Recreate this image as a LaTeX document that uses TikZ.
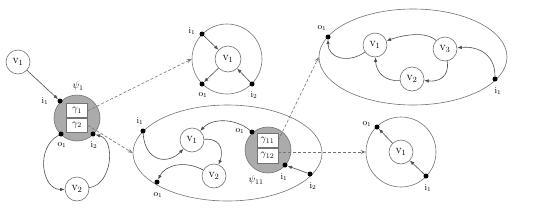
\documentclass[tikz,border=0pt]{standalone}
\usetikzlibrary{arrows.meta,calc,shapes.geometric}
\begin{document}
\begin{tikzpicture}[x=1pt,y=-1pt,
  vtx/.style={circle, draw=black!55, line width=0.6pt, minimum size=24pt, inner sep=0pt, fill=white, font=\large},
  port/.style={circle, fill=black, inner sep=0pt, minimum size=5pt},
  edge/.style={draw=black!70, line width=0.6pt, -{Latex[length=4.5pt,width=3.5pt]}},
  dsh/.style={draw=black!55, line width=0.6pt, dash pattern=on 3pt off 2pt, -{Stealth[open,length=5pt,width=4pt]}},
  lab/.style={font=\small, inner sep=0pt},
  hole/.style={circle, draw=black!55, fill=black!33, line width=0.6pt, minimum size=46pt, inner sep=0pt},
  gbox/.style={draw=black!55, fill=white, line width=0.6pt, minimum width=21pt, minimum height=14pt, inner sep=0pt, font=\normalsize},
  outer/.style={draw=black!55, line width=0.6pt, inner sep=0pt},
]
\useasboundingbox (0,0) rectangle (537,214);

% ---------- left: psi_1 ----------
\node[vtx] (Lv1) at (18,62) {$\mathrm{v}_1$};
\node[hole] (Lpsi) at (77,118) {};
\node[gbox,anchor=south] (Lg1) at (77,118) {$\gamma_1$};
\node[gbox,anchor=north] (Lg2) at (77,118) {$\gamma_2$};
\node[port] (Li1) at (60,101) {};
\node[port] (Lo1) at (61,134) {};
\node[port] (Li2) at (93,134) {};
\node[vtx] (Lv2) at (77,189) {$\mathrm{v}_2$};
\node[lab,font=\normalsize] (Llpsi) at (78,86) {$\psi_1$};
\node[lab] (Lli1) at (45,101) {$\mathrm{i}_1$};
\node[lab] (Llo1) at (62,145) {$\mathrm{o}_1$};
\node[lab] (Lli2) at (94,145) {$\mathrm{i}_2$};
\draw[edge] (Lv1) -- (Li1);
\draw[edge] (Lo1) .. controls (35,148) and (42,190) .. (Lv2);
\draw[edge] (Lv2) .. controls (112,185) and (116,140) .. (Li2);

% ---------- top middle: gamma_1 ----------
\node[outer, circle, minimum size=70pt] (M) at (227,59) {};
\node[vtx, minimum size=26pt] (Mv1) at (228,59) {$\mathrm{v}_1$};
\node[port] (Mi1) at (202,34) {};
\node[port] (Mo1) at (202,84) {};
\node[port] (Mi2) at (252,84) {};
\node[lab] (Mli1) at (192,31) {$\mathrm{i}_1$};
\node[lab] (Mlo1) at (203,95) {$\mathrm{o}_1$};
\node[lab] (Mli2) at (254,95) {$\mathrm{i}_2$};
\draw[edge] (Mi1) -- (Mv1);
\draw[edge] (Mv1) -- (Mo1);
\draw[edge] (Mi2) -- (Mv1);

% ---------- middle ellipse: gamma_2 ----------
\node[outer, ellipse, minimum width=189pt, minimum height=96pt] (E) at (227.5,153) {};
\node[vtx] (Ev1) at (192,140) {$\mathrm{v}_1$};
\node[vtx] (Ev2) at (214,176) {$\mathrm{v}_2$};
\node[hole] (P) at (268,150) {};
\node[gbox,anchor=south,minimum height=14.5pt] (Pg1) at (267.5,148) {$\gamma_{11}$};
\node[gbox,anchor=north,minimum height=14.5pt] (Pg2) at (267.5,148) {$\gamma_{12}$};
\node[port] (Ei1) at (143,131) {};
\node[port] (Eo1) at (157,182) {};
\node[port] (Ei2) at (310,174) {};
\node[port] (Po1) at (252,132) {};
\node[port] (Pi1) at (285,165) {};
\node[lab] (Eli1) at (140,121) {$\mathrm{i}_1$};
\node[lab] (Elo1) at (158,195) {$\mathrm{o}_1$};
\node[lab] (Plo1) at (240,131) {$\mathrm{o}_1$};
\node[lab,font=\normalsize] (Plpsi) at (256,180) {$\psi_{11}$};
\node[lab] (Pli1) at (284,177) {$\mathrm{i}_1$};
\node[lab] (Eli2) at (313,186) {$\mathrm{i}_2$};
\draw[edge] (Po1) .. controls (235,118) and (212,118) .. (Ev1);
\draw[edge] (Ei1) .. controls (145,162) and (168,165) .. (Ev1);
\draw[edge] (Ev1) .. controls (225,138) and (222,156) .. (Ev2);
\draw[edge] (Ev2) .. controls (185,160) and (165,165) .. (Eo1);
\draw[edge] (Ei2) -- (Pi1);

% ---------- top right ellipse: gamma_11 ----------
\node[outer, ellipse, minimum width=188pt, minimum height=96pt] (T) at (413,57) {};
\node[vtx] (Tv1) at (375,45) {$\mathrm{v}_1$};
\node[vtx] (Tv3) at (445,49) {$\mathrm{v}_3$};
\node[vtx] (Tv2) at (412,79) {$\mathrm{v}_2$};
\node[port] (To1) at (328,37) {};
\node[port] (Ti1) at (495,79) {};
\node[lab] (Tlo1) at (322,28) {$\mathrm{o}_1$};
\node[lab] (Tli1) at (498,91) {$\mathrm{i}_1$};
\draw[edge] (Tv1) .. controls (348,64) and (328,58) .. (To1);
\draw[edge] (Tv3) .. controls (425,30) and (400,36) .. (Tv1);
\draw[edge] (Tv3) .. controls (450,78) and (437,82) .. (Tv2);
\draw[edge] (Tv2) .. controls (385,82) and (376,72) .. (Tv1);
\draw[edge] (Ti1) .. controls (495,52) and (475,46) .. (Tv3);

% ---------- right circle: gamma_12 ----------
\node[outer, circle, minimum size=70pt] (R) at (401,152) {};
\node[vtx] (Rv1) at (401,152) {$\mathrm{v}_1$};
\node[port] (Ro1) at (377,127) {};
\node[port] (Ri1) at (426,176) {};
\node[lab] (Rlo1) at (367,124) {$\mathrm{o}_1$};
\node[lab] (Rli1) at (428,188) {$\mathrm{i}_1$};
\draw[edge] (Ri1) -- (Rv1);
\draw[edge] (Rv1) -- (Ro1);

% ---------- dashed refinement arrows ----------
\draw[dsh] (Lg1.east) -- (M.west);
\draw[dsh] (Lg2.east) -- (E.west);
\draw[dsh] (Pg1.east) -- (T.west);
\draw[dsh] (Pg2.east |- R.west) -- (R.west);
\end{tikzpicture}
\end{document}
